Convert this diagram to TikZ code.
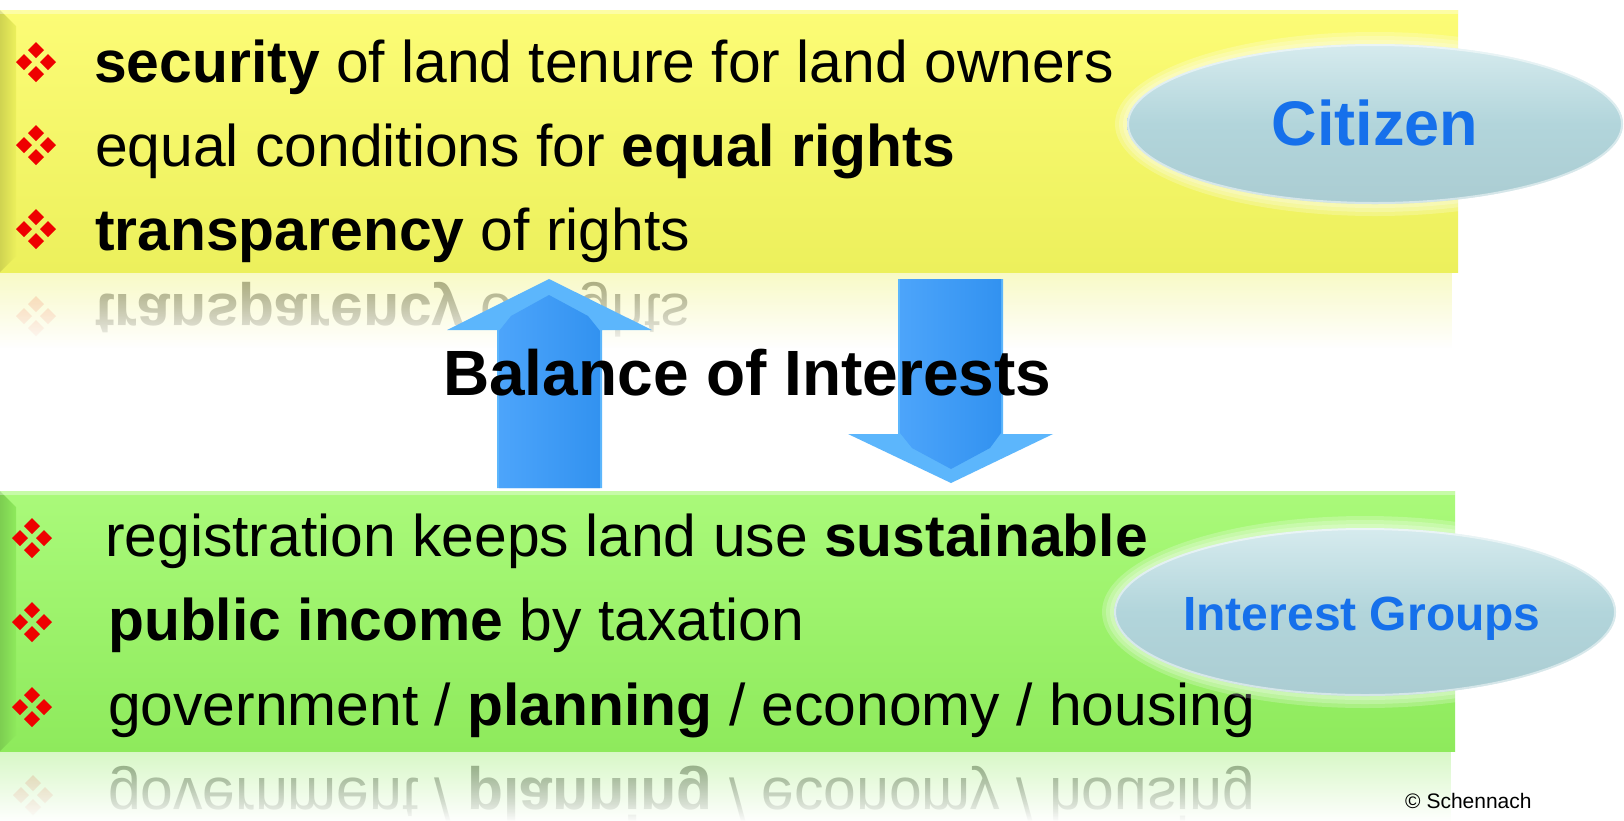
\documentclass[tikz,border=0pt]{standalone}
\usepackage{fontspec}
\setmainfont{Liberation Sans}
\usetikzlibrary{fadings}
\definecolor{ylwT}{RGB}{252,252,118}
\definecolor{ylwB}{RGB}{236,240,92}
\definecolor{grnT}{RGB}{170,250,122}
\definecolor{grnB}{RGB}{142,234,92}
\definecolor{arrblue}{RGB}{52,152,250}
\definecolor{arrlight}{RGB}{92,182,252}
\definecolor{ellc}{RGB}{178,213,219}
\definecolor{elllight}{RGB}{214,235,238}
\definecolor{txtblue}{RGB}{22,112,235}
\definecolor{bulred}{RGB}{238,0,0}
\tikzset{
  bul/.pic={\foreach \p in {(0,-12),(-12,0),(12,0),(0,12)}
    {\fill[shift={\p}] (0,-8) -- (8,0) -- (0,8) -- (-8,0) -- cycle;}},
  ltxt/.style={anchor=base west, inner sep=0pt, font=\fontsize{58.8}{60}\selectfont},
  mirtxt/.style={ltxt, yscale=-1, text=black!48},
  eltxt/.style={anchor=base, inner sep=0pt, text=txtblue, font=\bfseries},
}
\begin{document}
\begin{tikzpicture}[x=1pt,y=-1pt]
\useasboundingbox (0,0) rectangle (1624,820);
\fill[white] (0,0) rectangle (1624,820);

% ---------- yellow reflection ----------
\node[mirtxt] (yref) at (95,294) {\textbf{transparency} of rights};
\pic[bulred, opacity=0.22] at (36,316) {bul};
\fill[white, path fading=north] (0,272) rectangle (1460,348);
\fill[ylwB, opacity=0.35, path fading=south] (0,272) rectangle (1458,348);

% ---------- yellow box ----------
\shade[top color=ylwT, bottom color=ylwB] (0,10) rectangle (1458,272);
\shade[left color=ylwB!88!black, right color=ylwB] (0,10) -- (16,26) -- (16,256) -- (0,272) -- cycle;
\fill[white, opacity=0.35] (0,10) rectangle (1458,14);

\pic[bulred] at (36,62) {bul};
\pic[bulred] at (36,145) {bul};
\pic[bulred] at (36,229) {bul};
\node[ltxt] (y1) at (94,82) {\textbf{security} of land tenure for land owners};
\node[ltxt] (y2) at (95,166) {equal conditions for \textbf{equal rights}};
\node[ltxt] (y3) at (95,250) {\textbf{transparency} of rights};

% ---------- green reflection ----------
\node[mirtxt] (gref) at (108,778) {government / \textbf{planning} / economy / housing};
\pic[bulred, opacity=0.22] at (33,795) {bul};
\fill[white, path fading=north] (0,751) rectangle (1456,822);
\fill[grnB, opacity=0.35, path fading=south] (0,751) rectangle (1455,822);

% ---------- green box ----------
\shade[top color=grnT, bottom color=grnB] (0,491) rectangle (1455,751);
\shade[left color=grnB!88!black, right color=grnB] (0,491) -- (16,507) -- (16,735) -- (0,751) -- cycle;
\fill[white, opacity=0.35] (0,491) rectangle (1455,495);

\pic[bulred] at (32,538) {bul};
\pic[bulred] at (32,622) {bul};
\pic[bulred] at (32,707) {bul};
\node[ltxt] (g1) at (105,556) {registration keeps land use \textbf{sustainable}};
\node[ltxt] (g2) at (108,640) {\textbf{public income} by taxation};
\node[ltxt] (g3) at (108,725) {government / \textbf{planning} / economy / housing};

% ---------- arrows ----------
\coordinate (uptip) at (549,279);
\fill[arrlight] (497,488) -- (497,330) -- (447,330) -- (uptip) -- (652,330) -- (602,330) -- (602,488) -- cycle;
\shade[left color=arrblue!88!white, right color=arrblue!96!black]
  (499,488) -- (499,331) -- (511,316) -- (549,295) -- (588,316) -- (600,331) -- (600,488) -- cycle;

\coordinate (dntip) at (951,483);
\fill[arrlight] (898,279) -- (898,434) -- (848,434) -- (dntip) -- (1053,434) -- (1003,434) -- (1003,279) -- cycle;
\shade[left color=arrblue!88!white, right color=arrblue!96!black]
  (900,279) -- (900,433) -- (912,448) -- (951,469) -- (990,448) -- (1001,433) -- (1001,279) -- cycle;

\node[anchor=base west, inner sep=0pt, font=\fontsize{64}{65}\selectfont\bfseries] (bal) at (443,395) {Balance of Interests};

% ---------- ellipses ----------
\foreach \r in {12,8,4}
  \fill[white, opacity=0.22] (1375,124) ellipse [x radius=248+\r, y radius=80+\r];
\shade[top color=elllight, bottom color=ellc!96!black, middle color=ellc] (1375,124) ellipse [x radius=248, y radius=80];
\draw[white, opacity=0.5, line width=2pt] (1375,124) ellipse [x radius=247, y radius=79];
\node[eltxt, font=\fontsize{63}{64}\selectfont\bfseries] (cit) at (1375,145) {Citizen};

\foreach \r in {12,8,4}
  \fill[white, opacity=0.22] (1365,612) ellipse [x radius=251+\r, y radius=84+\r];
\shade[top color=elllight, bottom color=ellc!96!black, middle color=ellc] (1365,612) ellipse [x radius=251, y radius=84];
\draw[white, opacity=0.5, line width=2pt] (1365,612) ellipse [x radius=250, y radius=83];
\node[eltxt, font=\fontsize{48}{50}\selectfont\bfseries] (ig) at (1362,630) {Interest Groups};

% ---------- copyright ----------
\node[anchor=base west, inner sep=0pt, font=\fontsize{21}{22}\selectfont] (copy) at (1405,808) {© Schennach};
\end{tikzpicture}
\end{document}
